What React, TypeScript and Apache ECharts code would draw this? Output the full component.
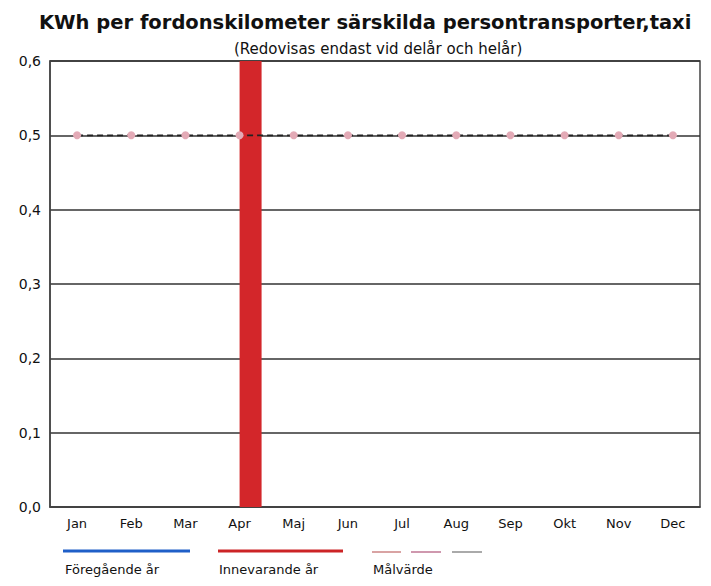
import React, { useEffect, useRef } from "react";
import * as echarts from "echarts";

const months = ["Jan", "Feb", "Mar", "Apr", "Maj", "Jun", "Jul", "Aug", "Sep", "Okt", "Nov", "Dec"];
const previousYear: (number | null)[] = [null, null, null, null, null, null, null, null, null, null, null, null];
const currentYear: (number | null)[] = [null, null, null, 0.6, null, null, null, null, null, null, null, null];
const targetValue: number[] = [0.5, 0.5, 0.5, 0.5, 0.5, 0.5, 0.5, 0.5, 0.5, 0.5, 0.5, 0.5];
const yTicks = [0, 0.1, 0.2, 0.3, 0.4, 0.5, 0.6];
const seriesNames = ["Föregående år", "Innevarande år", "Målvärde"];

const FONT = "'DejaVu Sans', 'Liberation Sans', Arial, sans-serif";

export default function App() {
  const ref = useRef<HTMLDivElement>(null);
  useEffect(() => {
    if (!ref.current) return;
    const chart = echarts.init(ref.current, undefined, { renderer: "svg" });
    chart.setOption({
      animation: false,
      backgroundColor: "#ffffff",
      textStyle: { fontFamily: FONT },
      title: [
        {
          text: "KWh per fordonskilometer särskilda persontransporter,taxi",
          left: 34,
          top: 7,
          textStyle: { fontSize: 19.5, fontWeight: "bold", color: "#111", fontFamily: FONT },
        },
        {
          text: "(Redovisas endast vid delår och helår)",
          left: 229,
          top: 36,
          textStyle: { fontSize: 15, fontWeight: "normal", color: "#111", fontFamily: FONT },
        },
      ],
      grid: {
        left: 50,
        right: 11,
        top: 61,
        bottom: 79,
        show: true,
        borderColor: "#444",
        borderWidth: 1.5,
        backgroundColor: "transparent",
      },
      xAxis: {
        type: "category",
        data: months,
        boundaryGap: true,
        axisLine: { show: true, lineStyle: { color: "#444", width: 1.5 } },
        axisTick: { show: false },
        axisLabel: { color: "#111", fontSize: 13, margin: 10, fontFamily: FONT },
      },
      yAxis: {
        type: "value",
        min: yTicks[0],
        max: yTicks[yTicks.length - 1],
        interval: 0.1,
        axisLine: { show: true, lineStyle: { color: "#444", width: 1.5 } },
        axisTick: { show: false },
        splitLine: { show: true, lineStyle: { color: "#333", width: 1.5 } },
        axisLabel: {
          color: "#111",
          fontSize: 14,
          margin: 9,
          fontFamily: FONT,
          formatter: (v: number) => v.toFixed(1).replace(".", ","),
        },
      },
      series: [
        {
          name: seriesNames[0],
          type: "bar",
          data: previousYear,
          barWidth: 22,
          barGap: "0%",
          itemStyle: { color: "#1f5fc8" },
        },
        {
          name: seriesNames[1],
          type: "bar",
          data: currentYear,
          barWidth: 22,
          barGap: "0%",
          itemStyle: { color: "#d3262a" },
        },
        {
          name: seriesNames[2],
          type: "line",
          data: targetValue,
          symbol: "circle",
          symbolSize: 8,
          z: 5,
          lineStyle: { color: "#222", width: 1.6, type: [6, 4] },
          itemStyle: { color: "#e3aab6" },
        },
      ],
      graphic: [
        { type: "line", shape: { x1: 63, y1: 551, x2: 190, y2: 551 }, style: { stroke: "#1f5fc8", lineWidth: 3 } },
        { type: "line", shape: { x1: 218, y1: 551, x2: 343, y2: 551 }, style: { stroke: "#cc2426", lineWidth: 3 } },
        { type: "line", shape: { x1: 372, y1: 552, x2: 401, y2: 552 }, style: { stroke: "#d9a3a3", lineWidth: 2 } },
        { type: "line", shape: { x1: 411, y1: 552, x2: 441, y2: 552 }, style: { stroke: "#cf98ae", lineWidth: 2 } },
        { type: "line", shape: { x1: 452, y1: 552, x2: 482, y2: 552 }, style: { stroke: "#aaaaaa", lineWidth: 2 } },
        { type: "text", x: 65, y: 563, style: { text: seriesNames[0], fill: "#111", font: `13px ${FONT}` } },
        { type: "text", x: 219, y: 563, style: { text: seriesNames[1], fill: "#111", font: `13px ${FONT}` } },
        { type: "text", x: 373, y: 563, style: { text: seriesNames[2], fill: "#111", font: `13px ${FONT}` } },
      ],
    });
    return () => chart.dispose();
  }, []);
  return <div ref={ref} style={{ width: 711, height: 586, margin: -8 }} />;
}
